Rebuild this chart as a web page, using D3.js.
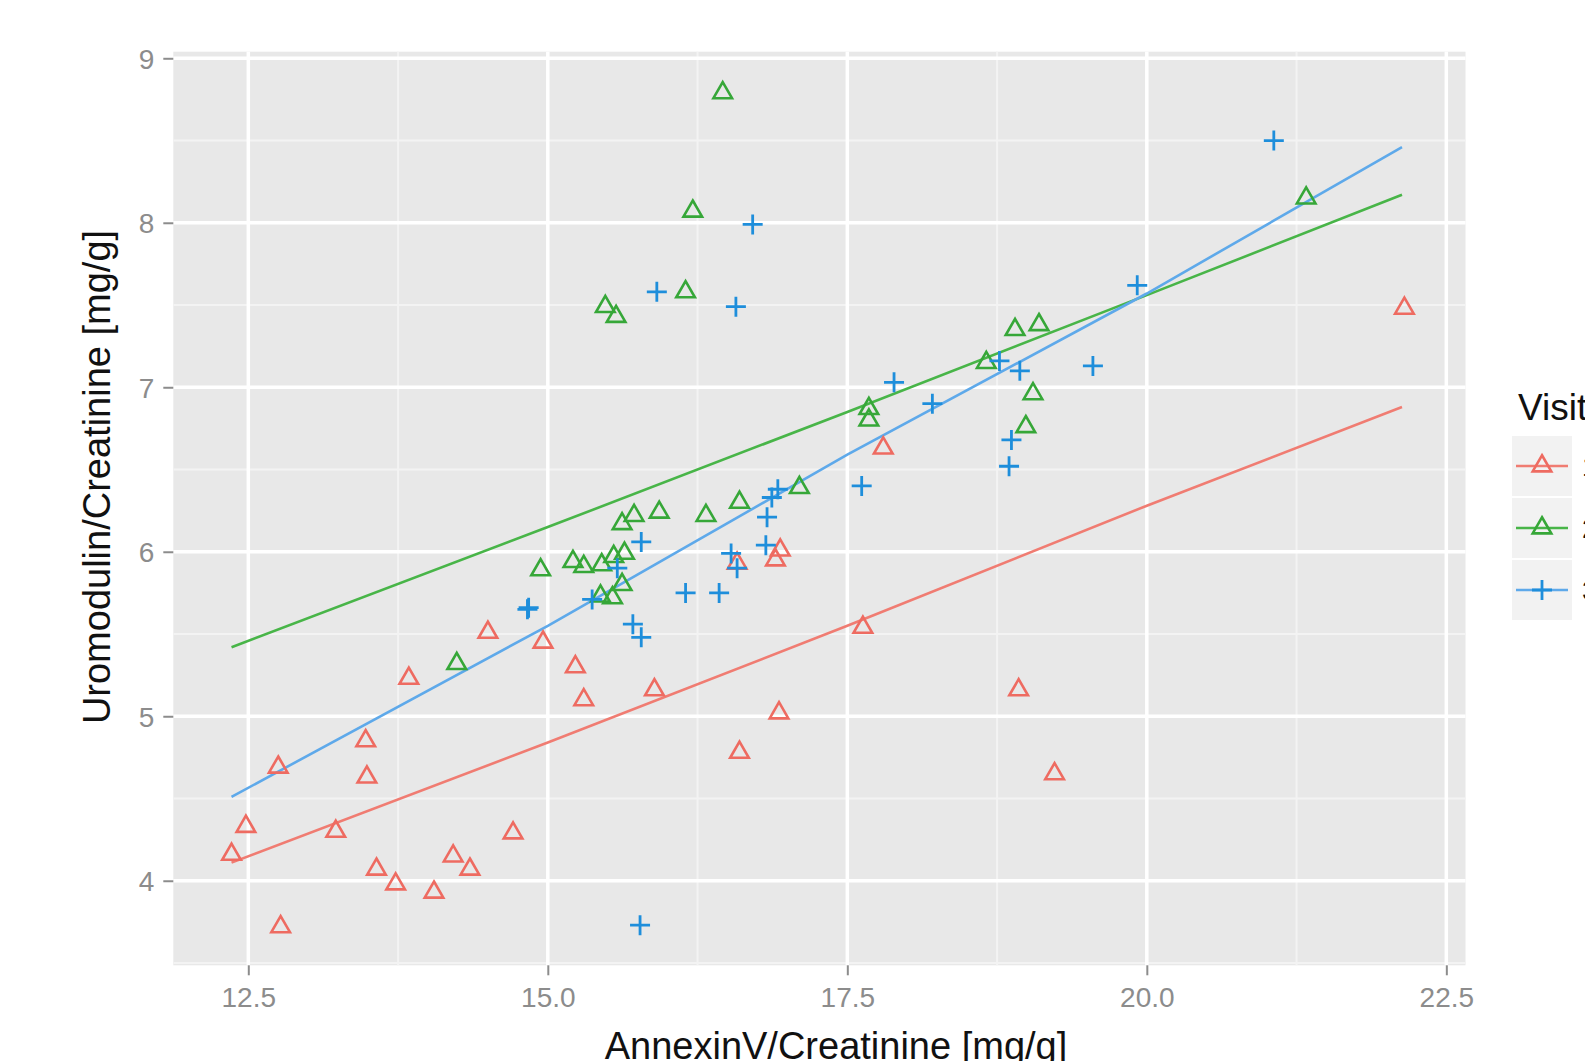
<!DOCTYPE html>
<html>
<head>
<meta charset="utf-8">
<script src="https://cdn.jsdelivr.net/npm/d3@7"></script>
<style>
  html, body { margin: 0; padding: 0; background: #ffffff; }
  svg { display: block; font-family: "Liberation Sans", Arial, sans-serif; }
</style>
</head>
<body>
<svg id="chart" width="1585" height="1061"></svg>
<script>
// Observations per visit: AnnexinV/Creatinine (x) and Uromodulin/Creatinine (y)
const visit1X = [12.36, 12.48, 12.75, 12.77, 13.23, 13.48, 13.49, 13.57, 13.73, 13.84, 14.05, 14.21, 14.35, 14.50, 14.71, 14.96, 15.23, 15.30, 15.89, 16.58, 16.60, 16.90, 16.94, 16.93, 17.63, 17.80, 18.93, 19.23, 22.15];
const visit1Y = [4.16, 4.33, 4.69, 3.72, 4.30, 4.85, 4.63, 4.07, 3.98, 5.23, 3.93, 4.15, 4.07, 5.51, 4.29, 5.45, 5.30, 5.10, 5.16, 5.93, 4.78, 5.95, 6.01, 5.02, 5.54, 6.63, 5.16, 4.65, 7.48];

const visit2X = [14.24, 14.94, 15.21, 15.30, 15.45, 15.44, 15.54, 15.55, 15.62, 15.64, 15.62, 15.72, 15.93, 16.32, 16.60, 17.10, 17.68, 17.68, 18.66, 18.90, 19.10, 19.05, 18.99, 15.48, 15.57, 16.15, 16.21, 16.46, 21.33];
const visit2Y = [5.32, 5.89, 5.94, 5.91, 5.92, 5.73, 5.72, 5.97, 5.80, 5.99, 6.17, 6.22, 6.24, 6.22, 6.30, 6.39, 6.87, 6.80, 7.15, 7.35, 7.38, 6.96, 6.76, 7.49, 7.43, 7.58, 8.07, 8.79, 8.15];

const visit3X = [14.83, 14.84, 15.37, 15.58, 15.71, 15.78, 15.78, 15.77, 15.91, 16.15, 16.43, 16.53, 16.58, 16.57, 16.71, 16.82, 16.83, 16.87, 16.92, 17.62, 17.89, 18.21, 18.77, 18.85, 18.87, 18.94, 19.55, 19.92, 21.06];
const visit3Y = [5.65, 5.66, 5.71, 5.90, 5.56, 5.48, 6.06, 3.73, 7.58, 5.75, 5.75, 5.99, 5.90, 7.49, 7.99, 6.04, 6.21, 6.33, 6.38, 6.40, 7.03, 6.90, 7.16, 6.52, 6.68, 7.10, 7.13, 7.62, 8.50];

// Fitted trend per visit, evaluated along the x range
const fitX  = [12.36, 15.0, 17.5, 20.0, 22.13];
const fit1Y = [4.11, 4.84, 5.55, 6.28, 6.88];
const fit2Y = [5.42, 6.15, 6.85, 7.56, 8.17];
const fit3Y = [4.51, 5.55, 6.59, 7.57, 8.46];

const visitLabels = ["1", "2", "3"];
const xTicks = [12.5, 15.0, 17.5, 20.0, 22.5];
const xMinor = [13.75, 16.25, 18.75, 21.25];
const yTicks = [4, 5, 6, 7, 8, 9];
const yMinor = [3.5, 4.5, 5.5, 6.5, 7.5, 8.5];

const series = [
  { label: visitLabels[0], xs: visit1X, ys: visit1Y, fit: fit1Y, shape: "triangle", point: "#EE6B61", line: "#F07C72" },
  { label: visitLabels[1], xs: visit2X, ys: visit2Y, fit: fit2Y, shape: "triangle", point: "#36A738", line: "#48B548" },
  { label: visitLabels[2], xs: visit3X, ys: visit3Y, fit: fit3Y, shape: "plus",     point: "#1E8EDB", line: "#5EA9EA" }
];

const svg = d3.select("#chart");

const panel = { left: 173.3, right: 1465.5, top: 51.7, bottom: 965.3 };
const x = d3.scaleLinear().domain([11.874, 22.66]).range([panel.left, panel.right]);
const y = d3.scaleLinear().domain([3.486, 9.04]).range([panel.bottom, panel.top]);

// Panel background
svg.append("rect")
  .attr("x", panel.left).attr("y", panel.top)
  .attr("width", panel.right - panel.left).attr("height", panel.bottom - panel.top)
  .attr("fill", "#E8E8E8");

const grid = svg.append("g");
// Minor grid
grid.selectAll(".vminor").data(xMinor).join("line")
  .attr("x1", d => x(d)).attr("x2", d => x(d))
  .attr("y1", panel.top).attr("y2", panel.bottom)
  .attr("stroke", "#F3F3F3").attr("stroke-width", 2);
grid.selectAll(".hminor").data(yMinor).join("line")
  .attr("y1", d => y(d)).attr("y2", d => y(d))
  .attr("x1", panel.left).attr("x2", panel.right)
  .attr("stroke", "#F3F3F3").attr("stroke-width", 2);
// Major grid
grid.selectAll(".vmajor").data(xTicks).join("line")
  .attr("x1", d => x(d)).attr("x2", d => x(d))
  .attr("y1", panel.top).attr("y2", panel.bottom)
  .attr("stroke", "#FFFFFF").attr("stroke-width", 3.5);
grid.selectAll(".hmajor").data(yTicks).join("line")
  .attr("y1", d => y(d)).attr("y2", d => y(d))
  .attr("x1", panel.left).attr("x2", panel.right)
  .attr("stroke", "#FFFFFF").attr("stroke-width", 3.5);

// Axes
const xAxis = svg.append("g")
  .attr("transform", `translate(0,${panel.bottom})`)
  .call(d3.axisBottom(x).tickValues(xTicks).tickFormat(d3.format(".1f")).tickSize(10).tickPadding(12));
const yAxis = svg.append("g")
  .attr("transform", `translate(${panel.left},0)`)
  .call(d3.axisLeft(y).tickValues(yTicks).tickFormat(d3.format("d")).tickSize(10).tickPadding(9));
[xAxis, yAxis].forEach(g => {
  g.select(".domain").remove();
  g.selectAll(".tick line").attr("stroke", "#8C8C8C").attr("stroke-width", 2);
  g.selectAll(".tick text").attr("fill", "#8C8C8C").attr("font-size", 28)
    .attr("font-family", "'Liberation Sans', Arial, sans-serif");
});
yAxis.selectAll(".tick text").attr("dy", "0.36em");

// Axis titles
svg.append("text")
  .attr("x", 836).attr("y", 1059)
  .attr("text-anchor", "middle")
  .attr("font-size", 38).attr("fill", "#111")
  .text("AnnexinV/Creatinine [mg/g]");
svg.append("text")
  .attr("transform", "translate(110,477) rotate(-90)")
  .attr("text-anchor", "middle")
  .attr("font-size", 38).attr("fill", "#111")
  .text("Uromodulin/Creatinine [mg/g]");

// Symbol generators
const triPath = d3.symbol().type(d3.symbolTriangle).size(150)();
function drawShape(sel, shape, color) {
  if (shape === "triangle") {
    sel.append("path").attr("d", triPath)
      .attr("fill", "none").attr("stroke", color).attr("stroke-width", 2.6)
      .attr("stroke-linejoin", "miter");
  } else {
    sel.append("path").attr("d", "M-10,0H10M0,-10V10")
      .attr("fill", "none").attr("stroke", color).attr("stroke-width", 2.8);
  }
}

// Fit lines
const line = d3.line().x(d => x(d[0])).y(d => y(d[1]));
series.forEach(s => {
  svg.append("path")
    .datum(fitX.map((v, i) => [v, s.fit[i]]))
    .attr("d", line)
    .attr("fill", "none").attr("stroke", s.line).attr("stroke-width", 2.6);
});

// Points
series.forEach(s => {
  const pts = s.xs.map((v, i) => ({ x: v, y: s.ys[i] }));
  svg.append("g").selectAll("g").data(pts).join("g")
    .attr("transform", d => `translate(${x(d.x)},${y(d.y)})`)
    .each(function () { drawShape(d3.select(this), s.shape, s.point); });
});

// Legend
const legend = svg.append("g");
legend.append("text")
  .attr("x", 1518).attr("y", 420)
  .attr("font-size", 37).attr("fill", "#111")
  .text("Visit");
const keyTop = 436, keyH = 62, keyLeft = 1512, keyW = 60;
series.forEach((s, i) => {
  const g = legend.append("g").attr("transform", `translate(${keyLeft},${keyTop + i * keyH})`);
  g.append("rect").attr("x", 0).attr("y", 0).attr("width", keyW).attr("height", keyH - 2)
    .attr("fill", "#F2F2F2");
  g.append("line").attr("x1", 4).attr("x2", keyW - 4)
    .attr("y1", keyH / 2 - 1).attr("y2", keyH / 2 - 1)
    .attr("stroke", s.line).attr("stroke-width", 2.6);
  const sym = g.append("g").attr("transform", `translate(${keyW / 2},${keyH / 2 - 1})`);
  drawShape(sym, s.shape, s.point);
  g.append("text").attr("x", keyW + 10).attr("y", keyH / 2 - 1).attr("dy", "0.36em")
    .attr("font-size", 28).attr("fill", "#111").text(s.label);
});
</script>
</body>
</html>
